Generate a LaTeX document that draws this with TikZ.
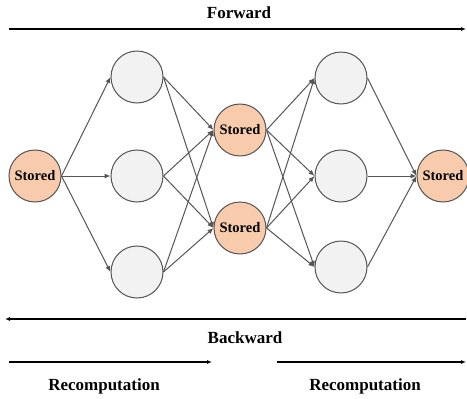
\documentclass[tikz,border=0pt]{standalone}
\usepackage{fontspec}
\setmainfont{Liberation Serif}
\usetikzlibrary{arrows.meta}
\definecolor{storedfill}{HTML}{F8CBAD}
\definecolor{plainfill}{HTML}{F2F2F2}
\definecolor{edgegray}{HTML}{555555}
\tikzset{
  neuron/.style={circle, draw=edgegray, line width=1pt, minimum size=52pt, inner sep=0pt, fill=plainfill},
  storednode/.style={neuron, fill=storedfill, font=\fontsize{14.5}{16}\selectfont\bfseries},
  link/.style={draw=edgegray, line width=1pt, -{Latex[length=6pt,width=5pt]}},
  passarrow/.style={draw=black, line width=1.1pt, -{Latex[length=5pt,width=4pt]}},
  caption/.style={font=\fontsize{17}{20}\selectfont\bfseries}
}
\begin{document}
\begin{tikzpicture}[x=1pt, y=-1pt]
\useasboundingbox (0,0) rectangle (467,399);

% network layers
\node[storednode] (s0) at (35,176) {Stored};
\node[neuron] (a1) at (137,77) {};
\node[neuron] (a2) at (137,176) {};
\node[neuron] (a3) at (137,272) {};
\node[storednode] (m1) at (240,130) {Stored};
\node[storednode] (m2) at (240,228) {Stored};
\node[neuron] (b1) at (341,78) {};
\node[neuron] (b2) at (341,176) {};
\node[neuron] (b3) at (341,267) {};
\node[storednode] (s4) at (443,176) {Stored};

% connections
\foreach \t in {a1,a2,a3} \draw[link] (s0.east) -- (\t.west);
\foreach \s in {a1,a2,a3} \foreach \t in {m1,m2} \draw[link] (\s.east) -- (\t.west);
\foreach \s in {m1,m2} \foreach \t in {b1,b2,b3} \draw[link] (\s.east) -- (\t.west);
\foreach \s in {b1,b2,b3} \draw[link] (\s.east) -- (s4.west);

% pass directions
\coordinate (fwdL) at (9,29);
\coordinate (fwdR) at (466,29);
\draw[passarrow] (fwdL) -- (fwdR);
\node[caption] (fwd) at (239,13) {Forward};

\coordinate (bwdR) at (466,319);
\coordinate (bwdL) at (5,319);
\draw[passarrow] (bwdR) -- (bwdL);
\node[caption] (bwd) at (245,338) {Backward};

\coordinate (rc1L) at (9,362);
\coordinate (rc1R) at (212,362);
\draw[passarrow] (rc1L) -- (rc1R);
\node[caption] (rc1) at (104,386) {Recomputation};

\coordinate (rc2L) at (277,362);
\coordinate (rc2R) at (466,362);
\draw[passarrow] (rc2L) -- (rc2R);
\node[caption] (rc2) at (365,386) {Recomputation};
\end{tikzpicture}
\end{document}
